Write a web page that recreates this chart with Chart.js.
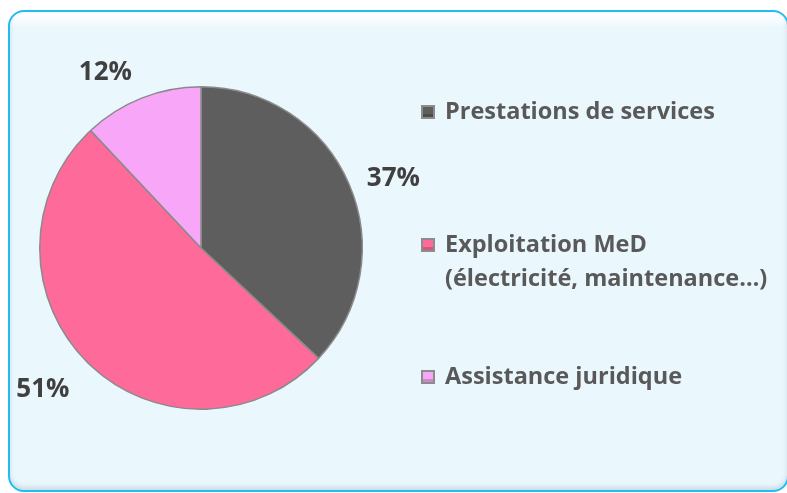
<!DOCTYPE html>
<html>
<head>
<meta charset="utf-8">
<script src="https://cdn.jsdelivr.net/npm/chart.js@4.4.1/dist/chart.umd.min.js"></script>
<style>
  html, body { margin: 0; padding: 0; background: #ffffff; overflow: hidden; }
  #frame {
    position: absolute; left: 8px; top: 10px; width: 777px; height: 478px;
    border: 2px solid #22bdf0; border-radius: 16px;
    background: linear-gradient(to bottom, #ffffff 0px, #f6fbfe 10px, #eaf7fd 16px, #eaf7fd 100%);
    box-shadow: inset 0 -3px 4px rgba(150,170,180,0.35);
  }
  #wrap { position: absolute; left: 0; top: 0; width: 787px; height: 493px; }
</style>
</head>
<body>
<div id="frame"></div>
<div id="wrap"><canvas id="chart" width="787" height="493"></canvas></div>
<script>
const categories = [
  'Prestations de services',
  ['Exploitation MeD', '(électricité, maintenance…)'],
  'Assistance juridique'
];
const shares = [37, 51, 12];
const sliceColors = ['#5e5e5e', '#fe6b9a', '#f8a6f8'];

const labelFont = 'bold 26px "Open Sans", Lato, sans-serif';
const legendFont = 'bold 23.5px "Open Sans", Lato, sans-serif';

// percentage labels placed just outside each slice
const outsideLabels = {
  id: 'outsideLabels',
  afterDatasetsDraw(chart) {
    const ctx = chart.ctx;
    const meta = chart.getDatasetMeta(0);
    const nudge = [[4, 12], [-13, -4], [-20, 15]];
    ctx.save();
    ctx.font = labelFont;
    ctx.fillStyle = '#404040';
    ctx.textAlign = 'center';
    ctx.textBaseline = 'middle';
    meta.data.forEach((arc, i) => {
      const p = arc.getProps(['x', 'y', 'startAngle', 'endAngle', 'outerRadius'], true);
      const mid = (p.startAngle + p.endAngle) / 2;
      const r = p.outerRadius + 44;
      ctx.fillText(shares[i] + '%', p.x + Math.cos(mid) * r + nudge[i][0], p.y + Math.sin(mid) * r + nudge[i][1]);
    });
    ctx.restore();
  }
};

// legend on the right, with bevelled square markers
const sideLegend = {
  id: 'sideLegend',
  afterDraw(chart) {
    const ctx = chart.ctx;
    const rows = [112, 245, 377];
    ctx.save();
    ctx.font = legendFont;
    ctx.textBaseline = 'middle';
    chart.data.labels.forEach((label, i) => {
      const y = rows[i];
      const x = 421;
      ctx.fillStyle = '#8c8c8c';
      ctx.fillRect(x, y - 7, 14, 14);
      ctx.fillStyle = sliceColors[i];
      ctx.fillRect(x + 2, y - 5, 10, 10);
      ctx.fillStyle = 'rgba(0,0,0,0.18)';
      ctx.fillRect(x + 2, y + 2, 10, 3);
      ctx.fillStyle = '#595959';
      const lines = Array.isArray(label) ? label : [label];
      lines.forEach((line, j) => {
        ctx.fillText(line, 445, y + j * 34);
      });
    });
    ctx.restore();
  }
};

new Chart(document.getElementById('chart'), {
  type: 'pie',
  data: {
    labels: categories,
    datasets: [{
      data: shares,
      backgroundColor: sliceColors,
      borderColor: '#8a8a8a',
      borderWidth: 1.5
    }]
  },
  options: {
    responsive: false,
    animation: false,
    layout: { padding: { left: 39, top: 86, right: 424, bottom: 83 } },
    plugins: {
      legend: { display: false },
      tooltip: { enabled: false }
    }
  },
  plugins: [outsideLabels, sideLegend]
});
</script>
</body>
</html>
